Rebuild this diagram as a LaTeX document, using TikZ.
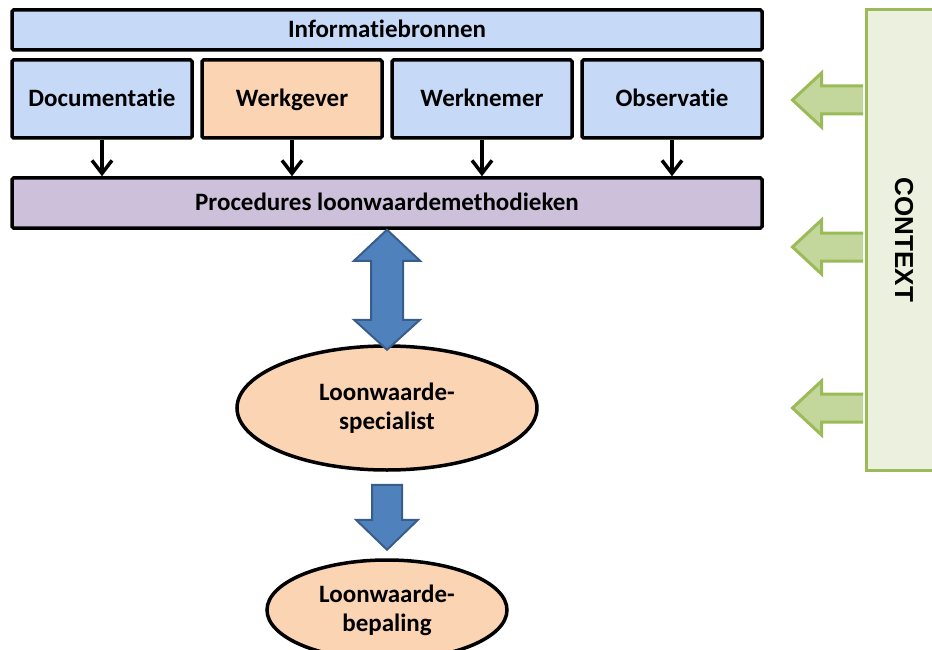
\documentclass[tikz,border=0pt]{standalone}
\usepackage{fontspec}
\setmainfont{Carlito}[Ligatures=NoCommon]
\newfontfamily\ctxfont{Liberation Sans}
\usetikzlibrary{arrows.meta,positioning,shapes.geometric,calc}
\definecolor{srcblue}{HTML}{C6DAF8}
\definecolor{srcorange}{HTML}{FBD4B4}
\definecolor{procpurple}{HTML}{CCC0DA}
\definecolor{ctxgreen}{HTML}{9BBB59}
\definecolor{ctxfill}{HTML}{EBF1DE}
\definecolor{ctxarrow}{HTML}{C3D69B}
\definecolor{flowblue}{HTML}{4F81BD}
\definecolor{flowedge}{HTML}{385D8A}

\begin{document}
\begin{tikzpicture}[x=1pt,y=-1pt,
  node distance=6.5pt,
  srcbox/.style={draw=black,line width=3.5pt,rounded corners=1.5pt,inner sep=0pt,align=center,text height=16pt,text depth=0pt,font=\fontsize{25}{30}\selectfont\bfseries},
  src/.style={srcbox,fill=srcblue,minimum width=180pt,minimum height=78pt},
  bar/.style={srcbox,minimum width=750pt},
  ell/.style={ellipse,draw=black,line width=3.5pt,fill=srcorange,inner sep=0pt,align=center,font=\fontsize{25}{29}\selectfont\bfseries},
  arr/.style={-{Straight Barb[length=13pt,width=20pt]},line width=3.5pt},
  flow/.style={draw=flowedge,line width=2pt,fill=flowblue},
  ctxarr/.style={draw=ctxgreen,line width=3pt,fill=ctxarrow}
]
  \useasboundingbox (0,0) rectangle (932,650);
  \node[bar,fill=srcblue,minimum height=40pt] (info) at (387,30) {Informatiebronnen};
  \node[src] (doc) at (102,99) {Documentatie};
  \node[src,fill=srcorange,right=of doc] (wg) {Werkgever};
  \node[src,right=of wg] (wn) {Werknemer};
  \node[src,right=of wn] (obs) {Observatie};
  \node[bar,fill=procpurple,minimum height=50pt] (proc) at (387,203) {Procedures loonwaardemethodieken};
  \foreach \s in {doc,wg,wn,obs}
    \draw[arr] (\s.south) -- (\s.south |- proc.north);
  \node[ell,minimum width=300pt,minimum height=124pt] (spec) at (387,408) {Loonwaarde-\\specialist};
  \node[ell,minimum width=240pt,minimum height=100pt] (bep) at (387,610) {Loonwaarde-\\bepaling};
  % blokpijlen
  \draw[flow] (proc.south) -- ++(33,31) -- ++(-17,0) -- ++(0,59) -- ++(17,0) -- ++(-33,30)
    -- ++(-33,-30) -- ++(17,0) -- ++(0,-59) -- ++(-17,0) -- cycle;
  \draw[flow] ($(spec.south)+(-15,13)$) -- ++(30,0) -- ++(0,35) -- ++(16,0) -- ++(-31,30)
    -- ++(-31,-30) -- ++(16,0) -- cycle;
  % context
  \node[draw=ctxgreen,line width=3pt,fill=ctxfill,minimum width=76pt,minimum height=460pt] (ctx) at (904,240) {};
  \node[rotate=-90,font=\ctxfont\fontsize{26}{30}\selectfont\bfseries] (ctxlbl) at (ctx.center) {CONTEXT};
  \foreach \d in {-140,7,168}
    \draw[ctxarr] ($(ctx.west)+(-1.5,\d)$) ++(0,-14) -- ++(-41.5,0) -- ++(0,-13) -- ++(-29,27)
      -- ++(29,27) -- ++(0,-13) -- ++(41.5,0);
\end{tikzpicture}
\end{document}
